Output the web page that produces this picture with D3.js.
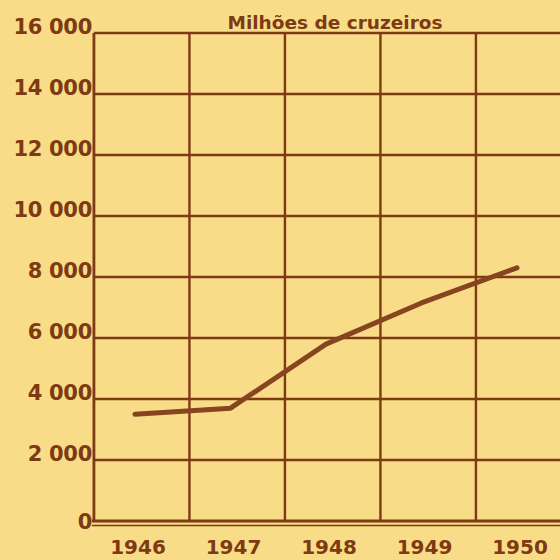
<!DOCTYPE html>
<html>
<head>
<meta charset="utf-8">
<script src="https://cdn.jsdelivr.net/npm/d3@7"></script>
<style>
  body { margin: 0; background: #f8dc88; }
  svg { display: block; }
</style>
</head>
<body>
<div id="chart"></div>
<script>
// data
var years = [1946, 1947, 1948, 1949, 1950];
var values = [3500, 3700, 5800, 7150, 8300];
var yTicks = [0, 2000, 4000, 6000, 8000, 10000, 12000, 14000, 16000];
var yTickLabels = ["0", "2 000", "4 000", "6 000", "8 000", "10 000", "12 000", "14 000", "16 000"];
var title = "Milhões de cruzeiros";

var width = 560, height = 560;
var brown = "#7e3a12";

var svg = d3.select("#chart").append("svg")
  .attr("width", width)
  .attr("height", height);

svg.append("rect").attr("width", width).attr("height", height).style("fill", "#f8dc88");

var x = d3.scaleLinear().domain([1946, 1950]).range([135, 517]);
var y = d3.scaleLinear().domain([0, 16000]).range([521, 33]);

// vertical grid lines sit a bit left of each year
var gridYears = d3.range(0, 6).map(function(i){ return 1945.57 + i; });

svg.selectAll(".hgrid")
  .data(yTicks.slice(1)).enter()
  .append("line").attr("class", "hgrid")
  .attr("x1", x(gridYears[0]))
  .attr("x2", width)
  .attr("y1", function(d){ return y(d); })
  .attr("y2", function(d){ return y(d); })
  .style("stroke", brown)
  .style("stroke-width", 2.4);

svg.selectAll(".vgrid")
  .data(gridYears).enter()
  .append("line").attr("class", "vgrid")
  .attr("x1", function(d){ return x(d); })
  .attr("x2", function(d){ return x(d); })
  .attr("y1", y(16000))
  .attr("y2", y(0))
  .style("stroke", brown)
  .style("stroke-width", function(d, i){ return i == 0 ? 2.8 : 2.4; });

// double base line
svg.append("line")
  .attr("x1", x(gridYears[0]) - 2).attr("x2", width)
  .attr("y1", y(0)).attr("y2", y(0))
  .style("stroke", brown).style("stroke-width", 2.8);
svg.append("line")
  .attr("x1", x(gridYears[0]) - 2).attr("x2", width)
  .attr("y1", y(0) + 4.5).attr("y2", y(0) + 4.5)
  .style("stroke", brown).style("stroke-width", 1.5);

// y labels
svg.selectAll(".ylab")
  .data(yTicks).enter()
  .append("text").attr("class", "ylab")
  .attr("x", 92)
  .attr("y", function(d){ return d == 0 ? y(d) + 8 : y(d) + 1; })
  .attr("text-anchor", "end")
  .style("font-family", "DejaVu Sans")
  .style("font-weight", "bold")
  .style("font-size", "21px")
  .style("letter-spacing", "-0.3px")
  .style("fill", brown)
  .text(function(d, i){ return yTickLabels[i]; });

// x labels
svg.selectAll(".xlab")
  .data(years).enter()
  .append("text").attr("class", "xlab")
  .attr("x", function(d){ return x(d) + 3; })
  .attr("y", 554)
  .attr("text-anchor", "middle")
  .style("font-family", "DejaVu Sans")
  .style("font-weight", "bold")
  .style("font-size", "20px")
  .style("fill", brown)
  .text(function(d){ return d; });

// title
svg.append("text")
  .attr("x", 335)
  .attr("y", 29)
  .attr("text-anchor", "middle")
  .style("font-family", "DejaVu Sans")
  .style("font-weight", "bold")
  .style("font-size", "18.5px")
  .style("fill", brown)
  .text(title);

// the series
var line = d3.line()
  .x(function(d, i){ return x(years[i]); })
  .y(function(d){ return y(d); });

svg.append("path")
  .datum(values)
  .attr("d", line)
  .style("fill", "none")
  .style("stroke", "#874420")
  .style("stroke-width", 5)
  .style("stroke-linecap", "round")
  .style("stroke-linejoin", "round");
</script>
</body>
</html>
